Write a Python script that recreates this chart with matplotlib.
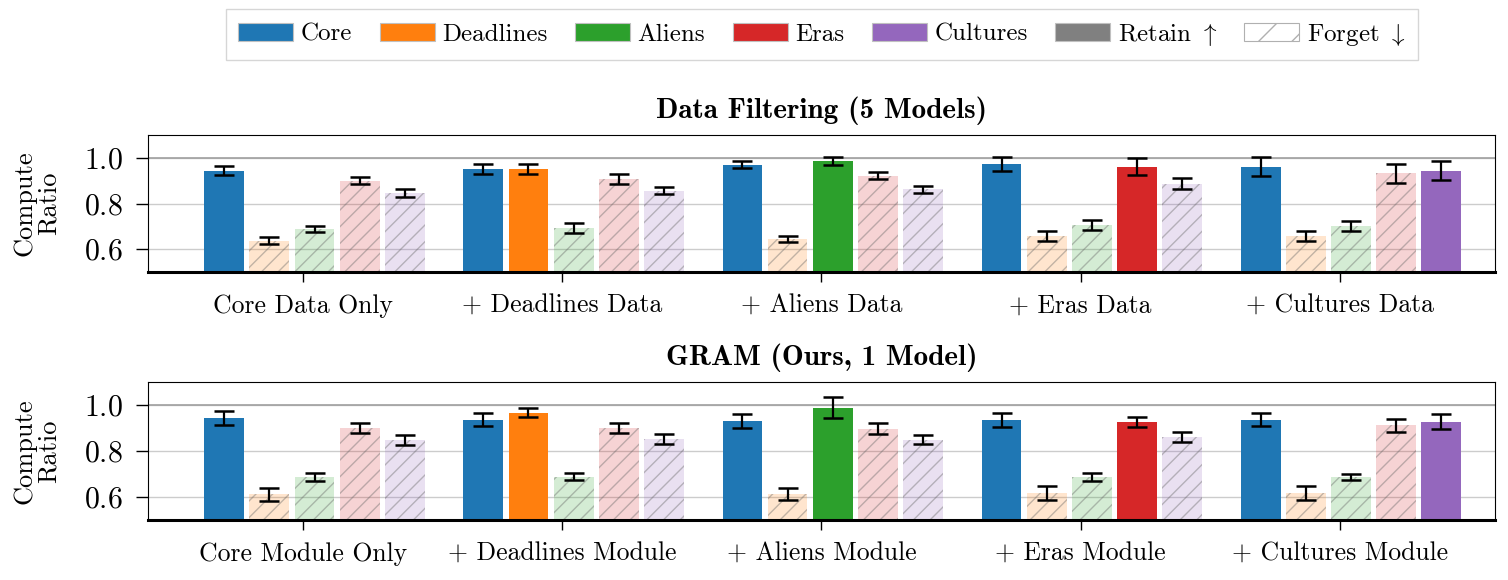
import numpy as np
import matplotlib
matplotlib.use('Agg')
import matplotlib.pyplot as plt
from matplotlib.colors import to_rgba
from matplotlib.patches import Patch

plt.rcParams['font.family'] = ['cmr10', 'DejaVu Serif']
plt.rcParams['mathtext.fontset'] = 'cm'
plt.rcParams['axes.formatter.use_mathtext'] = True
plt.rcParams['hatch.linewidth'] = 1.0

domains = ['Core', 'Deadlines', 'Aliens', 'Eras', 'Cultures']
colors = ['#1f77b4', '#ff7f0e', '#2ca02c', '#d62728', '#9467bd']

filter_labels = ['Core Data Only', '+ Deadlines Data', '+ Aliens Data',
                 '+ Eras Data', '+ Cultures Data']
gram_labels = ['Core Module Only', '+ Deadlines Module', '+ Aliens Module',
               '+ Eras Module', '+ Cultures Module']

# rows = configuration, columns = domain
filter_mean = [
    [0.945, 0.637, 0.688, 0.901, 0.845],
    [0.952, 0.952, 0.693, 0.909, 0.857],
    [0.971, 0.645, 0.988, 0.923, 0.862],
    [0.975, 0.658, 0.706, 0.962, 0.888],
    [0.962, 0.657, 0.701, 0.932, 0.945],
]
filter_err = [
    [0.020, 0.016, 0.012, 0.016, 0.018],
    [0.023, 0.023, 0.020, 0.022, 0.016],
    [0.015, 0.012, 0.018, 0.014, 0.014],
    [0.030, 0.023, 0.021, 0.036, 0.025],
    [0.041, 0.021, 0.022, 0.041, 0.041],
]
gram_mean = [
    [0.942, 0.611, 0.688, 0.901, 0.849],
    [0.936, 0.967, 0.688, 0.901, 0.853],
    [0.932, 0.613, 0.988, 0.897, 0.849],
    [0.936, 0.619, 0.688, 0.927, 0.862],
    [0.936, 0.619, 0.688, 0.911, 0.927],
]
gram_err = [
    [0.030, 0.028, 0.017, 0.021, 0.021],
    [0.029, 0.020, 0.015, 0.022, 0.021],
    [0.030, 0.026, 0.046, 0.023, 0.020],
    [0.030, 0.030, 0.018, 0.021, 0.021],
    [0.029, 0.031, 0.013, 0.029, 0.032],
]

PITCH = 0.174
WIDTH = 0.154
SHIFT = 0.043
HATCH_COL = (0.4, 0.4, 0.4, 0.4)


def draw_panel(ax, means, errs, labels, title):
    x = np.arange(len(labels))
    for g in range(len(labels)):
        for d in range(len(domains)):
            pos = x[g] + (d - 2) * PITCH + SHIFT
            retain = (d == 0 or d == g)
            if retain:
                ax.bar(pos, means[g][d], WIDTH, color=colors[d], zorder=2)
            else:
                ax.bar(pos, means[g][d], WIDTH, facecolor=to_rgba(colors[d], 0.2),
                       edgecolor=HATCH_COL, linewidth=0, hatch='//', zorder=2)
            ax.errorbar(pos, means[g][d], yerr=errs[g][d], color='black',
                        capsize=7.5, elinewidth=1.6, capthick=1.8, zorder=3)
    ax.set_ylim(0.5, 1.1)
    ax.set_xlim(-0.6, 4.6)
    ax.set_yticks([0.6, 0.8, 1.0])
    ax.set_xticks(x)
    ax.set_xticklabels(labels, fontsize=18.5)
    ax.tick_params(axis='y', length=9, width=1.0, labelsize=21.5, pad=9)
    ax.tick_params(axis='x', length=7, width=1.0, pad=9)
    ax.grid(axis='y', color='#cccccc', linewidth=1.0, zorder=0)
    ax.axhline(1.0, color='#a0a0a0', linewidth=1.2, zorder=1)
    ax.set_axisbelow(True)
    ax.spines['bottom'].set_linewidth(2.2)
    ax.set_ylabel('Compute\nRatio', fontsize=19, labelpad=17, linespacing=1.0)
    ax.set_title(title, fontsize=21, fontfamily='cmb10', pad=12)


fig = plt.figure(figsize=(15.08, 5.8), dpi=100)
ax1 = fig.add_axes([0.0981, 0.531, 0.8933, 0.236])
ax2 = fig.add_axes([0.0981, 0.1034, 0.8933, 0.238])

draw_panel(ax1, filter_mean, filter_err, filter_labels, 'Data Filtering (5 Models)')
draw_panel(ax2, gram_mean, gram_err, gram_labels, 'GRAM (Ours, 1 Model)')

handles = [Patch(facecolor=c, edgecolor='#c0c0c0', linewidth=0.8, label=n)
           for c, n in zip(colors, domains)]
handles.append(Patch(facecolor='gray', edgecolor='#c0c0c0', linewidth=0.8,
                     label=r'Retain $\uparrow$'))
handles.append(Patch(facecolor='white', edgecolor='#b0b0b0', linewidth=0.8,
                     hatch='/', label=r'Forget $\downarrow$'))
fig.legend(handles=handles, loc='center', bbox_to_anchor=(0.545, 0.94), ncol=7,
           fontsize=18, frameon=True, fancybox=False, edgecolor='#cccccc',
           handlelength=2.2, handleheight=0.7, handletextpad=0.3,
           columnspacing=1.1, borderpad=0.5)

fig.savefig('out.png', dpi=100)
